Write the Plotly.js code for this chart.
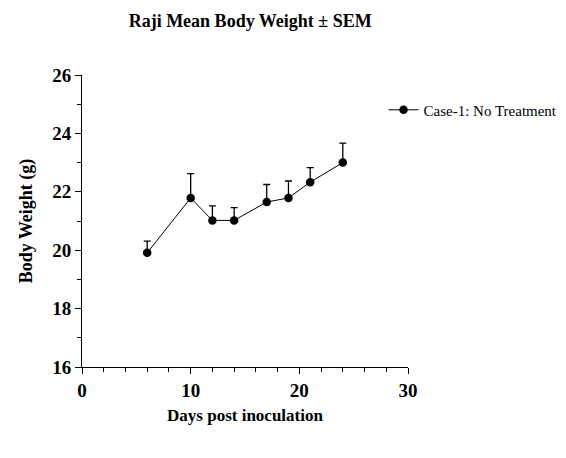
<!DOCTYPE html>
<html>
<head>
<meta charset="utf-8">
<script src="https://cdn.plot.ly/plotly-3.0.1.min.js"></script>
<style>html,body{margin:0;padding:0;background:#fff;}#chart{width:566px;height:458px;}</style>
</head>
<body>
<div id="chart"></div>
<script>
const days = [6, 10, 12, 14, 17, 19, 21, 24];
const meanWeight = [19.91, 21.79, 21.02, 21.02, 21.65, 21.79, 22.33, 23.0];
const semPlus = [0.40, 0.83, 0.50, 0.44, 0.60, 0.58, 0.50, 0.67];
const semMinus = [0, 0, 0, 0, 0, 0, 0, 0];
const seriesName = "Case-1: No Treatment";
const xTicks = [0, 10, 20, 30];
const yTicks = [16, 18, 20, 22, 24, 26];

const serif = "Liberation Serif, Times New Roman, serif";

const trace = {
  x: days, y: meanWeight, type: "scatter", mode: "lines+markers",
  name: seriesName,
  line: {color: "#000", width: 1},
  marker: {color: "#000", size: 8.5, symbol: "circle"},
  error_y: {type: "data", symmetric: false, array: semPlus, arrayminus: semMinus,
            color: "#000", thickness: 1.3, width: 3.5}
};

const layout = {
  width: 566, height: 458,
  margin: {l: 82, r: 158, t: 75, b: 91, autoexpand: false},
  paper_bgcolor: "#fff", plot_bgcolor: "#fff",
  showlegend: true,
  title: {text: "<b>Raji Mean Body Weight ± SEM</b>", x: 0.442, xanchor: "center", y: 0.954, yanchor: "middle",
          font: {family: serif, size: 18, color: "#000"}},
  legend: {x: 0.925, y: 0.88, xanchor: "left", yanchor: "middle", font: {family: serif, size: 15, color: "#000"},
           bgcolor: "rgba(0,0,0,0)", itemwidth: 30},
  xaxis: {
    range: [0, 30], tickmode: "array", tickvals: xTicks, ticktext: xTicks.map(v => "<b>" + v + "</b>"),
    ticks: "outside", ticklen: 6, tickwidth: 1, tickcolor: "#000",
    showline: true, linecolor: "#000", linewidth: 1, showgrid: false, zeroline: false,
    tickfont: {family: serif, size: 19, color: "#000"},
    minor: {dtick: 2, tick0: 0, ticks: "outside", ticklen: 4, tickcolor: "#000", tickwidth: 1, showgrid: false},
    title: {text: "<b>Days post inoculation</b>", font: {family: serif, size: 17, color: "#000"}, standoff: 9}
  },
  yaxis: {
    range: [16, 26], tickmode: "array", tickvals: yTicks, ticktext: yTicks.map(v => "<b>" + v + "</b>"),
    ticks: "outside", ticklen: 6, tickwidth: 1, tickcolor: "#000",
    showline: true, linecolor: "#000", linewidth: 1, showgrid: false, zeroline: false,
    tickfont: {family: serif, size: 19, color: "#000"},
    minor: {dtick: 1, tick0: 16, ticks: "outside", ticklen: 4, tickcolor: "#000", tickwidth: 1, showgrid: false},
    title: {text: "<b>Body Weight (g)</b>", font: {family: serif, size: 18, color: "#000"}, standoff: 14}
  }
};

Plotly.newPlot("chart", [trace], layout, {displayModeBar: false, staticPlot: true});
</script>
</body>
</html>
